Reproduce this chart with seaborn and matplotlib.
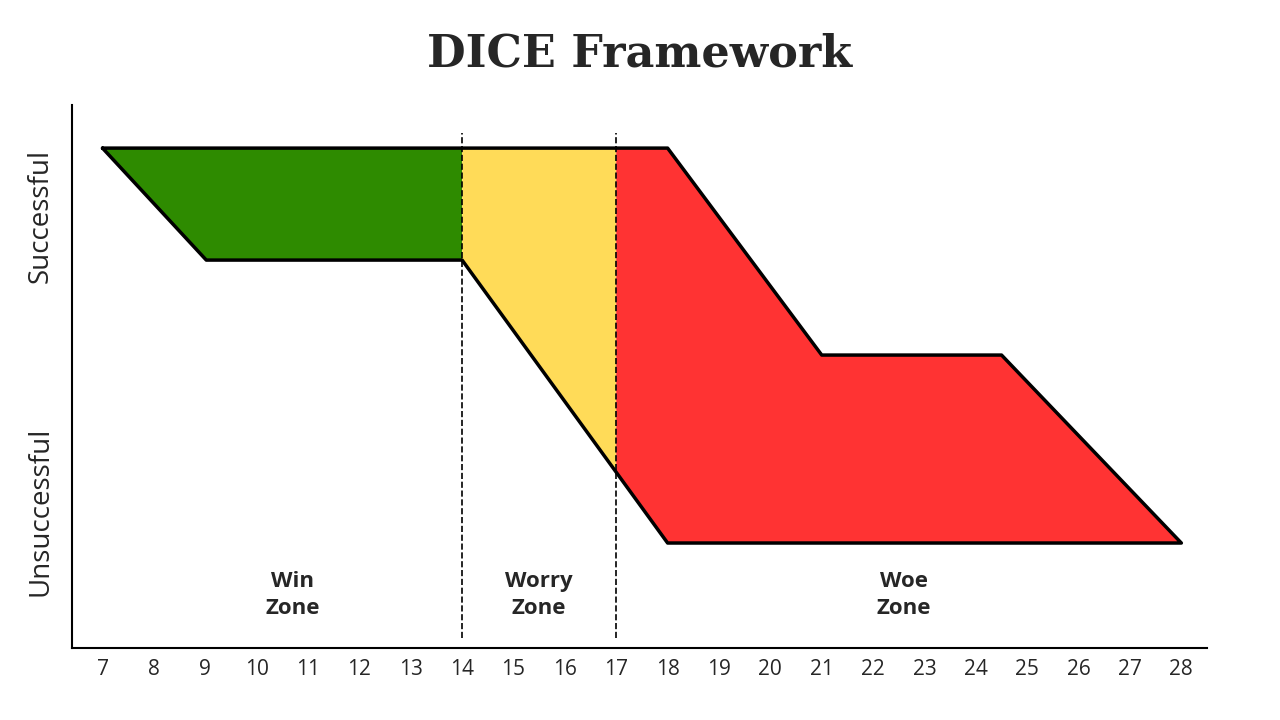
import matplotlib
matplotlib.use("Agg")
import matplotlib.pyplot as plt
import seaborn as sns

sns.set_style("white")
plt.rcParams['font.family'] = ['Open Sans', 'DejaVu Sans']

xticks = list(range(7, 29))
top, green_bot, mid, bot = 5.0, 3.88, 2.93, 1.05
yellow_bot = 1.76
green_x = [7, 14, 14, 9.02]; green_y = [top, top, green_bot, green_bot]
yellow_x = [14, 17, 17, 14]; yellow_y = [top, top, yellow_bot, green_bot]
red_x = [17, 18, 21, 24.5, 28, 18, 17]; red_y = [top, top, mid, mid, bot, bot, yellow_bot]
out_x = [7, 18, 21, 24.5, 28, 18, 14, 9.02, 7]
out_y = [top, top, mid, mid, bot, bot, green_bot, green_bot, top]
zones = ["Win\nZone", "Worry\nZone", "Woe\nZone"]
zone_x = [10.7, 15.5, 22.6]
dividers = [14, 17]

fig, ax = plt.subplots(figsize=(12.8, 7.2), dpi=100)
fig.subplots_adjust(left=0.056, right=0.943, top=0.854, bottom=0.1)
ax.fill(green_x, green_y, color="#2E8B00", lw=0)
ax.fill(yellow_x, yellow_y, color="#FFDB58", lw=0)
ax.fill(red_x, red_y, color="#FF3333", lw=0)
sns.lineplot(x=out_x, y=out_y, sort=False, color="black", lw=2.5, ax=ax, estimator=None)
for d in dividers:
    ax.plot([d, d], [0.1, 5.15], ls="--", color="black", lw=1.2)
for z, zx in zip(zones, zone_x):
    ax.text(zx, 0.53, z, ha="center", va="center", fontsize=16, fontweight="bold", linespacing=1.4)
ax.set_xlim(6.4, 28.5)
ax.set_ylim(0, 5.43)
ax.set_xticks(xticks)
ax.tick_params(axis="x", labelsize=15, length=0, pad=8)
ax.set_yticks([])
for s in ["top", "right"]:
    ax.spines[s].set_visible(False)
for s in ["left", "bottom"]:
    ax.spines[s].set_color("black"); ax.spines[s].set_linewidth(1.5)
fig.text(0.032, 0.70, "Successful", rotation=90, ha="center", va="center", fontsize=20)
fig.text(0.032, 0.29, "Unsuccessful", rotation=90, ha="center", va="center", fontsize=20)
fig.suptitle("DICE Framework", y=0.955, fontsize=32, fontweight="bold", family="DejaVu Serif")
fig.savefig("out.png", dpi=100)
